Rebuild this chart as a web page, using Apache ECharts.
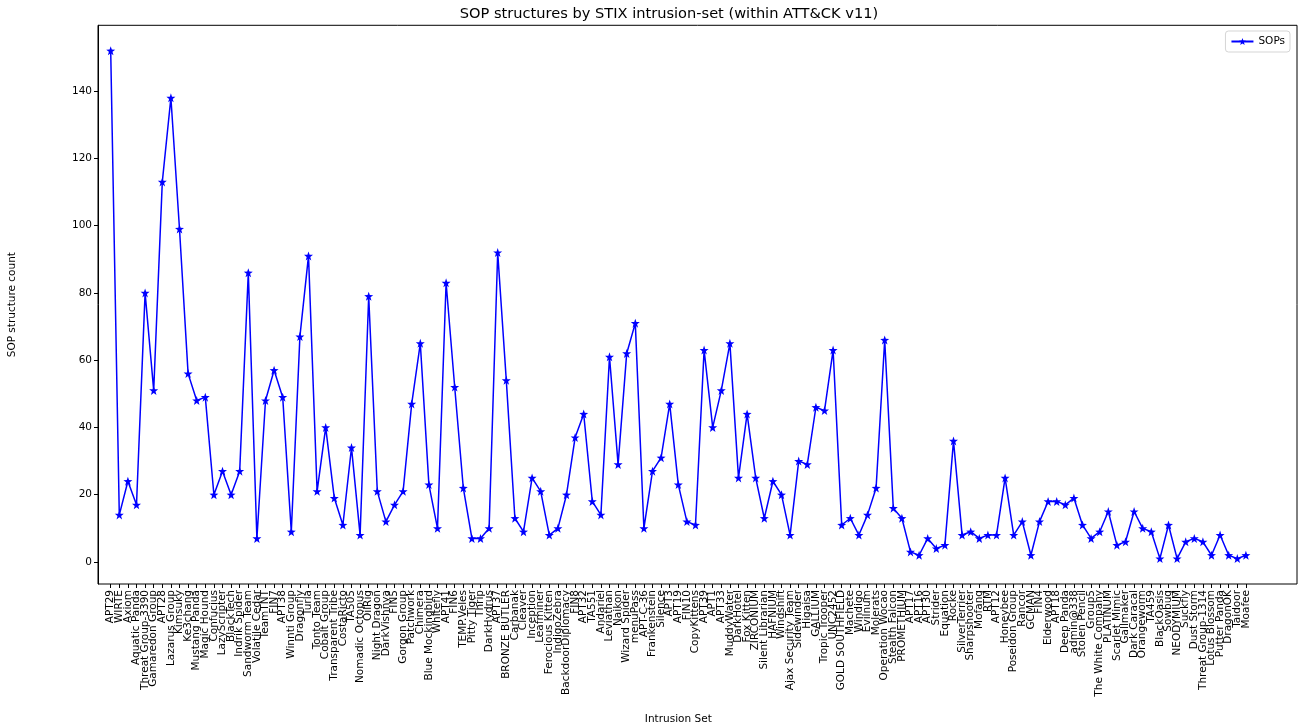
<!DOCTYPE html>
<html>
<head>
<meta charset="utf-8">
<script src="https://cdn.jsdelivr.net/npm/echarts@6/dist/echarts.min.js"></script>
<style>
html,body{margin:0;padding:0;background:#fff;}
#chart{width:1306px;height:726px;}
</style>
</head>
<body>
<div id="chart"></div>
<script>
const categories = [
"APT29","WIRTE","Axiom","Aquatic Panda","Threat Group-3390","Gamaredon Group","APT28","Lazarus Group","Kimsuky","Ke3chang",
"Mustang Panda","Magic Hound","Confucius","LazyScripter","BlackTech","Indrik Spider","Sandworm Team","Volatile Cedar","TeamTNT","FIN7",
"APT38","Winnti Group","Dragonfly","Turla","Tonto Team","Cobalt Group","Transparent Tribe","CostaRicto","TA505","Nomadic Octopus",
"OilRig","Night Dragon","DarkVishnya","FIN5","Gorgon Group","Patchwork","Chimera","Blue Mockingbird","Whitefly","APT41",
"FIN6","TEMP.Veles","Pitty Tiger","Thrip","DarkHydrus","APT37","BRONZE BUTLER","Carbanak","Cleaver","Inception",
"Leafminer","Ferocious Kitten","IndigoZebra","BackdoorDiplomacy","FIN8","APT32","TA551","Andariel","Leviathan","Naikon",
"Wizard Spider","menuPass","APT-C-36","Frankenstein","Silence","APT3","APT19","FIN10","CopyKittens","APT39",
"APT1","APT33","MuddyWater","DarkHotel","Fox Kitten","ZIRCONIUM","Silent Librarian","HAFNIUM","Windshift","Ajax Security Team",
"Sidewinder","Higaisa","GALLIUM","Tropic Trooper","UNC2452","GOLD SOUTHFIELD","Machete","Windigo","Evilnum","Molerats",
"Operation Wocao","Stealth Falcon","PROMETHIUM","APT17","APT16","APT30","Strider","Equation","Rocke","SilverTerrier",
"Sharpshooter","Mofang","RTM","APT12","Honeybee","Poseidon Group","Rancor","GCMAN","FIN4","Elderwood",
"APT18","Deep Panda","admin@338","Stolen Pencil","Group5","The White Company","PLATINUM","Scarlet Mimic","Gallmaker","Dark Caracal",
"Orangeworm","TA459","BlackOasis","Sowbug","NEODYMIUM","Suckfly","Dust Storm","Threat Group-1314","Lotus Blossom","Putter Panda",
"DragonOK","Taidoor","Moafee"
];
const sopCounts = [
152,14,24,17,80,51,113,138,99,56,
48,49,20,27,20,27,86,7,48,57,
49,9,67,91,21,40,19,11,34,8,
79,21,12,17,21,47,65,23,10,83,
52,22,7,7,10,92,54,13,9,25,
21,8,10,20,37,44,18,14,61,29,
62,71,10,27,31,47,23,12,11,63,
40,51,65,25,44,25,13,24,20,8,
30,29,46,45,63,11,13,8,14,22,
66,16,13,3,2,7,4,5,36,8,
9,7,8,8,25,8,12,2,12,18,
18,17,19,11,7,9,15,5,6,15,
10,9,1,11,1,6,7,6,2,8,
2,1,2
];
const yTicks = [0,20,40,60,80,100,120,140];
const seriesName = "SOPs";

const star = 'path://M0,-10 L2.35,-3.24 L9.51,-3.09 L3.8,1.24 L5.88,8.09 L0,4 L-5.88,8.09 L-3.8,1.24 L-9.51,-3.09 L-2.35,-3.24 Z';
const font = 'DejaVu Sans';
const yMin = -6.55, yMax = 159.55;

const chart = echarts.init(document.getElementById('chart'), null, {renderer:'canvas'});
chart.setOption({
  animation: false,
  backgroundColor: '#fff',
  title: {
    text: 'SOP structures by STIX intrusion-set (within ATT&CK v11)',
    left: 664, top: 2, textAlign: 'center',
    textStyle: {fontFamily: font, fontSize: 14.6, fontWeight: 'normal', color: '#000'}
  },
  legend: {
    right: 16, top: 31,
    data: [seriesName],
    orient: 'vertical',
    borderColor: '#d5d5d5', borderWidth: 1, borderRadius: 3,
    padding: [5, 5, 5, 5],
    itemWidth: 22, itemHeight: 9, itemGap: 5,
    textStyle: {fontFamily: font, fontSize: 10.5, color: '#000'}
  },
  grid: [
    {left: 110.7, right: 60.1, top: 25.3, bottom: 142, show: false, containLabel: false, outerBoundsMode: 'none'},
    {left: 98, right: 9, top: 25.3, bottom: 142, show: true, borderColor: '#000', borderWidth: 1, backgroundColor: 'transparent', containLabel: false, outerBoundsMode: 'none'}
  ],
  xAxis: [
    {
      gridIndex: 0, type: 'category', data: categories, boundaryGap: false, position: 'bottom',
      name: 'Intrusion Set', nameLocation: 'middle', nameGap: 130,
      nameTextStyle: {fontFamily: font, fontSize: 10.5, color: '#000'},
      axisLine: {show: false, onZero: false},
      axisTick: {show: true, interval: 0, length: 4, lineStyle: {color: '#000', width: 1}},
      axisLabel: {interval: 0, rotate: 90, margin: 6, fontFamily: font, fontSize: 10.5, color: '#000'},
      splitLine: {show: false}
    },
    {gridIndex: 1, type: 'value', min: 0, max: 1, show: false}
  ],
  yAxis: [
    {gridIndex: 0, type: 'value', min: yMin, max: yMax, show: false},
    {
      gridIndex: 1, type: 'value', min: yMin, max: yMax,
      name: 'SOP structure count', nameLocation: 'middle', nameGap: 80,
      nameTextStyle: {fontFamily: font, fontSize: 10.5, color: '#000'},
      axisLine: {show: true, onZero: false, lineStyle: {color: '#000', width: 1}},
      axisTick: {show: true, customValues: yTicks, length: 4, lineStyle: {color: '#000'}},
      axisLabel: {customValues: yTicks, margin: 6, fontFamily: font, fontSize: 10.5, color: '#000'},
      splitLine: {show: false}
    }
  ],
  series: [{
    name: seriesName,
    type: 'line',
    xAxisIndex: 0, yAxisIndex: 0,
    data: sopCounts,
    symbol: star,
    symbolSize: 9,
    showAllSymbol: true,
    lineStyle: {color: '#0000ff', width: 1.5},
    itemStyle: {color: '#0000ff'}
  }]
});
</script>
</body>
</html>
